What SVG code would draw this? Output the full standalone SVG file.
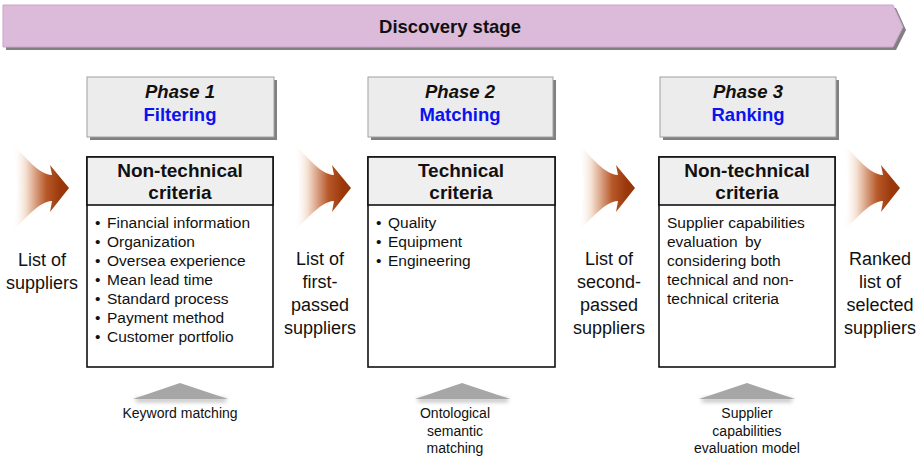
<svg xmlns="http://www.w3.org/2000/svg" xmlns:xlink="http://www.w3.org/1999/xlink" width="920" height="459" viewBox="0 0 920 459">
<style>
text{font-family:"Liberation Sans",Arial,sans-serif;fill:#111}
.banner{font-size:18.5px;font-weight:bold}
.ph{font-size:18.5px;font-weight:bold;font-style:italic;text-anchor:middle}
.pn{font-size:18.5px;font-weight:bold;fill:#0a14ee;text-anchor:middle}
.hd{font-size:19px;font-weight:bold;text-anchor:middle}
.it{font-size:15.5px}
.lb{font-size:18px;text-anchor:middle}
.sm{font-size:14px;text-anchor:middle}
.pbox{fill:#ececec;stroke:#a0a0a0;stroke-width:1}
.shadow{fill:#808080}
.cbox{fill:#fff;stroke:#111;stroke-width:1.6}
.chead{fill:#efefef;stroke:#111;stroke-width:1.6}
.tri{fill:#a6a6a6}
</style>
<defs>
<linearGradient id="ag" x1="0" y1="0" x2="1" y2="0">
<stop offset="0" stop-color="#ffffff" stop-opacity="0"/>
<stop offset="0.25" stop-color="#f3dccd"/>
<stop offset="0.6" stop-color="#b8592a"/>
<stop offset="0.85" stop-color="#9a380b"/>
<stop offset="1" stop-color="#953508"/>
</linearGradient>
<path id="arr" d="M -57 -44 C -42 -30, -31 -14, -17 -13 L -19 -23 L 0 0 L -19 24 L -17 13 C -31 14, -42 30, -57 43 C -50 20, -50 -20, -57 -44 Z" fill="url(#ag)"/>
<filter id="blur" x="-20%" y="-100%" width="140%" height="300%"><feGaussianBlur stdDeviation="2"/></filter>
</defs>

<g id="banner">
<polygon points="6,8 896,8 906,30 896,50 6,50" class="shadow"/>
<polygon points="3,5 893,5 903,27 893,47 3,47" fill="#dcbad9" stroke="#c9a5c6" stroke-width="1"/>
<text x="450" y="33" class="banner" text-anchor="middle">Discovery stage</text>
</g>

<g id="phase1">
<rect x="90" y="80" width="187" height="60" class="shadow"/>
<rect x="87" y="77" width="187" height="60" class="pbox"/>
<text x="180" y="98" class="ph">Phase 1</text>
<text x="180" y="121" class="pn">Filtering</text>
</g>
<g id="phase2">
<rect x="371" y="80" width="185" height="60" class="shadow"/>
<rect x="368" y="77" width="185" height="60" class="pbox"/>
<text x="460" y="98" class="ph">Phase 2</text>
<text x="460" y="121" class="pn">Matching</text>
</g>
<g id="phase3">
<rect x="663" y="80" width="176" height="60" class="shadow"/>
<rect x="660" y="77" width="176" height="60" class="pbox"/>
<text x="748" y="98" class="ph">Phase 3</text>
<text x="748" y="121" class="pn">Ranking</text>
</g>

<g id="criteria1">
<rect x="87" y="157" width="186" height="210" class="cbox"/>
<rect x="87" y="157" width="186" height="48" class="chead"/>
<text x="180" y="177" class="hd">Non-technical</text>
<text x="180" y="199" class="hd">criteria</text>
<text x="95" y="228" class="it">•</text><text x="107" y="228" class="it">Financial information</text>
<text x="95" y="247" class="it">•</text><text x="107" y="247" class="it">Organization</text>
<text x="95" y="266" class="it">•</text><text x="107" y="266" class="it">Oversea experience</text>
<text x="95" y="285" class="it">•</text><text x="107" y="285" class="it">Mean lead time</text>
<text x="95" y="304" class="it">•</text><text x="107" y="304" class="it">Standard process</text>
<text x="95" y="323" class="it">•</text><text x="107" y="323" class="it">Payment method</text>
<text x="95" y="342" class="it">•</text><text x="107" y="342" class="it">Customer portfolio</text>
</g>

<g id="criteria2">
<rect x="368" y="157" width="187" height="210" class="cbox"/>
<rect x="368" y="157" width="187" height="48" class="chead"/>
<text x="461" y="177" class="hd">Technical</text>
<text x="461" y="199" class="hd">criteria</text>
<text x="376" y="228" class="it">•</text><text x="388" y="228" class="it">Quality</text>
<text x="376" y="247" class="it">•</text><text x="388" y="247" class="it">Equipment</text>
<text x="376" y="266" class="it">•</text><text x="388" y="266" class="it">Engineering</text>
</g>

<g id="criteria3">
<rect x="659" y="157" width="176" height="210" class="cbox"/>
<rect x="659" y="157" width="176" height="48" class="chead"/>
<text x="747" y="177" class="hd">Non-technical</text>
<text x="747" y="199" class="hd">criteria</text>
<text x="667" y="228" class="it">Supplier capabilities</text>
<text x="667" y="247" class="it" word-spacing="3">evaluation by</text>
<text x="667" y="266" class="it">considering both</text>
<text x="667" y="285" class="it">technical and non-</text>
<text x="667" y="304" class="it">technical criteria</text>
</g>

<g id="connectors">
<use xlink:href="#arr" href="#arr" x="69" y="188"/>
<use xlink:href="#arr" href="#arr" x="351" y="188"/>
<use xlink:href="#arr" href="#arr" x="635" y="188"/>
<use xlink:href="#arr" href="#arr" x="900" y="188"/>
</g>

<g id="list0">
<text x="42" y="266" class="lb">List of</text>
<text x="42" y="289" class="lb">suppliers</text>
</g>
<g id="list1">
<text x="320" y="265" class="lb">List of</text>
<text x="320" y="288" class="lb">first-</text>
<text x="320" y="311" class="lb">passed</text>
<text x="320" y="334" class="lb">suppliers</text>
</g>
<g id="list2">
<text x="609" y="265" class="lb">List of</text>
<text x="609" y="288" class="lb">second-</text>
<text x="609" y="311" class="lb">passed</text>
<text x="609" y="334" class="lb">suppliers</text>
</g>
<g id="list3">
<text x="880" y="265" class="lb">Ranked</text>
<text x="880" y="288" class="lb">list of</text>
<text x="880" y="311" class="lb">selected</text>
<text x="880" y="334" class="lb">suppliers</text>
</g>

<g id="method1">
<rect x="136" y="398" width="90" height="4" fill="#bbb" filter="url(#blur)"/>
<polygon points="180,383 228,399 133,399" class="tri"/>
<text x="180" y="418" class="sm">Keyword matching</text>
</g>
<g id="method2">
<rect x="418" y="398" width="90" height="4" fill="#bbb" filter="url(#blur)"/>
<polygon points="462,383 510,399 415,399" class="tri"/>
<text x="455" y="418" class="sm">Ontological</text>
<text x="455" y="436" class="sm">semantic</text>
<text x="455" y="453" class="sm">matching</text>
</g>
<g id="method3">
<rect x="702" y="398" width="90" height="4" fill="#bbb" filter="url(#blur)"/>
<polygon points="747,383 795,399 699,399" class="tri"/>
<text x="747" y="418" class="sm">Supplier</text>
<text x="747" y="436" class="sm">capabilities</text>
<text x="747" y="453" class="sm">evaluation model</text>
</g>
</svg>
